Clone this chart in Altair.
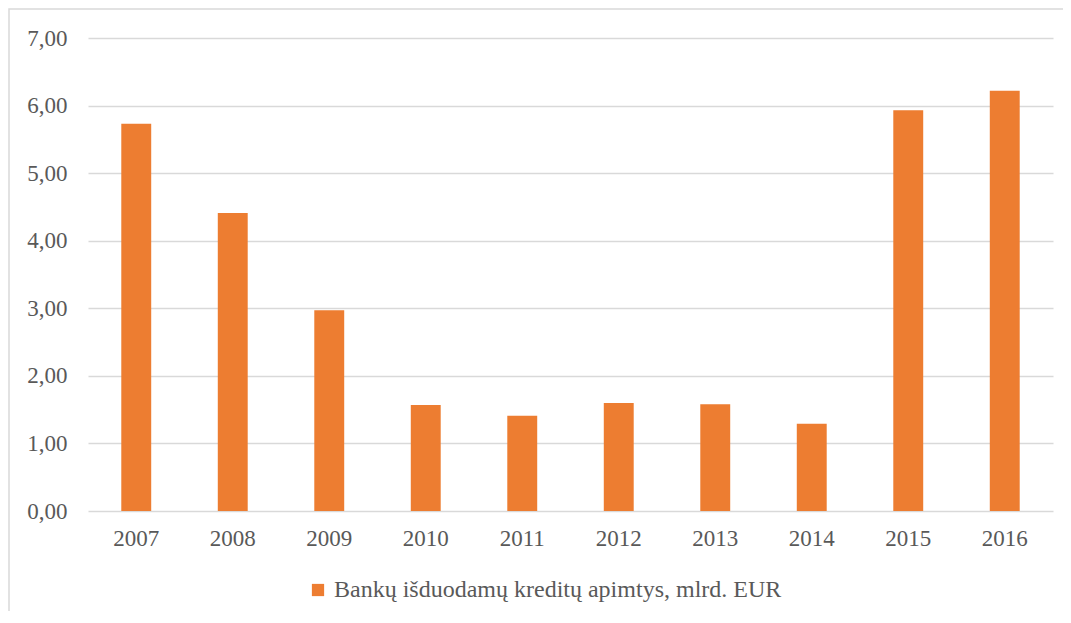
import altair as alt
import pandas as pd

years = ["2007", "2008", "2009", "2010", "2011", "2012", "2013", "2014", "2015", "2016"]
values = [5.73, 4.41, 2.97, 1.57, 1.41, 1.60, 1.58, 1.29, 5.93, 6.22]
series_name = "Bankų išduodamų kreditų apimtys, mlrd. EUR"
y_ticks = [0, 1, 2, 3, 4, 5, 6, 7]

df = pd.DataFrame({"year": years, "value": values, "series": [series_name] * len(years)})

FONT = "Liberation Serif"
TXT = "#595959"

bars = alt.Chart(df).mark_bar(color="#ED7D31").encode(
    x=alt.X("year:N", title=None, sort=years,
            scale=alt.Scale(paddingInner=0.69, paddingOuter=0.345),
            axis=alt.Axis(labelAngle=0, ticks=False, domain=False, grid=False,
                          labelPadding=16, labelFontSize=23, labelFont=FONT, labelColor=TXT)),
    y=alt.Y("value:Q", title=None,
            scale=alt.Scale(domain=[0, 7], nice=False),
            axis=alt.Axis(values=y_ticks, ticks=False, domain=False, grid=True,
                          gridColor="#d9d9d9", gridWidth=1.5,
                          labelPadding=21, labelFontSize=23, labelFont=FONT, labelColor=TXT,
                          labelExpr="replace(format(datum.value, '.2f'), '.', ',')")),
    color=alt.Color("series:N", scale=alt.Scale(domain=[series_name], range=["#ED7D31"]),
                    legend=alt.Legend(title=None, orient="none", legendX=218, legendY=540,
                                      direction="horizontal", symbolType="square",
                                      symbolSize=150, symbolStrokeWidth=0,
                                      labelFontSize=24, labelFont=FONT, labelColor=TXT,
                                      labelOffset=4, labelLimit=800)),
)

frame = alt.Chart(pd.DataFrame({"a": [0]})).mark_rect(
    fill=None, stroke="#d9d9d9", strokeWidth=1.5
).encode(
    x=alt.value(-79), x2=alt.value(1200), y=alt.value(-29), y2=alt.value(900)
)

chart = alt.layer(bars, frame).properties(
    width=965, height=473,
    autosize=alt.AutoSizeParams(type="none"),
    padding={"left": 80, "top": 30, "right": 10, "bottom": 100},
).configure(font=FONT).configure_view(stroke=None)

chart.save("out.html", embed_options={"renderer": "svg", "actions": False})
